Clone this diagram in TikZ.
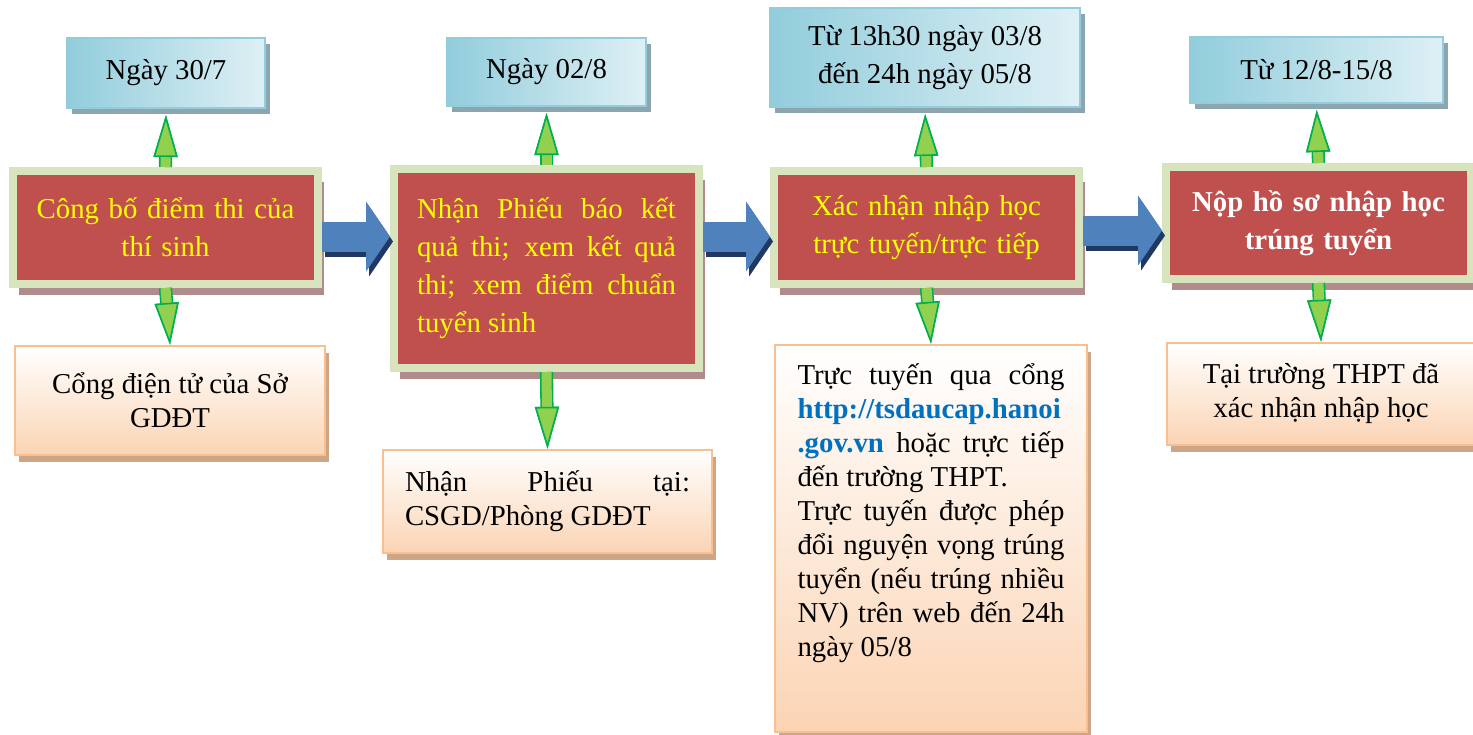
\documentclass[tikz,border=0pt]{standalone}
\usepackage{fontspec}
\setmainfont{Liberation Serif}
\usetikzlibrary{arrows.meta,shadows}

\begin{document}
\begin{tikzpicture}[x=0.5pt,y=-0.5pt,
  txt/.style={font=\fontsize{14.4}{19}\selectfont},
  tighttxt/.style={font=\fontsize{14.4}{17}\selectfont},
  datebox/.style={txt,shade,left color=topdark,right color=toplight,draw=topdark,line width=1pt,inner sep=0pt,
    drop shadow={shadow xshift=2.5pt,shadow yshift=-3pt,fill=topshadow,opacity=1}},
  stepbox/.style={txt,fill=redfill,draw=redrim,line width=4pt,text=stepyellow,inner sep=0pt,
    minimum width=152.5pt,
    drop shadow={shadow xshift=3pt,shadow yshift=-5.5pt,fill=redshadow,opacity=1}},
  placebox/.style={tighttxt,top color=white,bottom color=peach,draw=peachrim,line width=1.2pt,inner sep=0pt,
    drop shadow={shadow xshift=2pt,shadow yshift=-3.5pt,fill=peachshadow,opacity=1}},
  gconn/.style={draw=gfill,line width=5pt,
    -{Triangle[length=21pt,width=12pt,color=gline,fill=gfill,line width=0.8pt]},
    preaction={draw=gline,line width=6.6pt,-{Triangle[length=21pt,width=12pt,line width=0.8pt]}}},
  bconn/.style={draw=bfill,line width=15pt,
    -{Triangle[length=12pt,width=35pt,line width=0.5pt]},
    preaction={draw=bdark,line width=15pt,transform canvas={xshift=1.5pt,yshift=-2.5pt},
      -{Triangle[length=12pt,width=35pt,line width=0.5pt]}}}]

\definecolor{redfill}{RGB}{192,80,77}
\definecolor{redrim}{RGB}{215,228,189}
\definecolor{redshadow}{RGB}{176,140,140}
\definecolor{topdark}{RGB}{146,205,220}
\definecolor{toplight}{RGB}{222,240,245}
\definecolor{topshadow}{RGB}{140,165,175}
\definecolor{peach}{RGB}{251,212,180}
\definecolor{peachrim}{RGB}{250,191,143}
\definecolor{peachshadow}{RGB}{205,165,135}
\definecolor{gfill}{RGB}{146,208,80}
\definecolor{gline}{RGB}{0,176,80}
\definecolor{bfill}{RGB}{79,129,189}
\definecolor{bdark}{RGB}{31,56,100}
\definecolor{urlblue}{RGB}{0,112,192}
\definecolor{stepyellow}{RGB}{255,255,0}

\useasboundingbox (0,0) rectangle (1473,734);

% dates
\node[datebox,minimum width=99pt,minimum height=35pt]   (d1) at (166,73)    {Ngày 30/7};
\node[datebox,minimum width=99.5pt,minimum height=34pt] (d2) at (546.5,72)  {Ngày 02/8};
\node[datebox,minimum width=155pt,minimum height=49.5pt,align=center]
                                                         (d3) at (925,57.5)  {Từ 13h30 ngày 03/8\\đến 24h ngày 05/8};
\node[datebox,minimum width=126.5pt,minimum height=33pt] (d4) at (1316.5,70) {Từ 12/8-15/8};

% steps
\node[stepbox,minimum height=56.5pt,text width=130pt,align=center] (s1) at (165.5,227.5)
  {Công bố điểm thi của\\thí sinh};
\node[stepbox,minimum height=99.5pt,text width=129.5pt,align=justify] (s2) at (546.5,268.5)
  {Nhận Phiếu báo kết\linebreak quả thi; xem kết quả\linebreak thi; xem điểm chuẩn\linebreak tuyển sinh};
\node[stepbox,minimum height=56.5pt,text width=130pt,align=center] (s3) at (926.5,227.5)
  {Xác nhận nhập học\\trực tuyến/trực tiếp};
\node[stepbox,minimum height=56pt,text width=130pt,align=center,text=white,font=\fontsize{14.4}{19}\selectfont\bfseries]
  (s4) at (1318.5,223) {Nộp hồ sơ nhập học\\trúng tuyển};

% places
\node[placebox,minimum width=155pt,minimum height=54.5pt,align=center] (p1) at (170,400.5)
  {Cổng điện tử của Sở\\GDĐT};
\node[placebox,minimum width=164.5pt,minimum height=51.5pt,text width=142.5pt,align=justify] (p2) at (547.5,501.5)
  {Nhận Phiếu tại:\linebreak CSGD/Phòng GDĐT};
\node[placebox,minimum width=156pt,minimum height=193.5pt] (p3) at (931,538.5)
  {\parbox[c][175pt][t]{133.5pt}{Trực tuyến qua cổng\linebreak
   {\color{urlblue}\bfseries http://tsdaucap.hanoi}\linebreak
   {\color{urlblue}\bfseries .gov.vn} hoặc trực tiếp\linebreak
   đến trường THPT.\par
   Trực tuyến được phép\linebreak đổi nguyện vọng trúng\linebreak
   tuyển (nếu trúng nhiều\linebreak NV) trên web đến 24h\linebreak ngày 05/8}};
\node[placebox,minimum width=154pt,minimum height=51pt,align=center] (p4) at (1321,394)
  {Tại trường THPT đã\\xác nhận nhập học};

\foreach \i in {1,...,4}{
  \draw[gconn,shorten >=3pt] (s\i.north) -- (d\i.south);
  \draw[gconn] (s\i.south) -- (p\i.north);
}

\draw[bconn] ([yshift=-4.5pt]s1.east) -- ([yshift=-4.5pt]s1.east -| s2.west);
\draw[bconn] ([yshift=-4.5pt]s2.east |- s3.west) -- ([yshift=-4.5pt]s3.west);
\draw[bconn] ([yshift=-1.5pt]s3.east) -- ([yshift=-1.5pt]s3.east -| s4.west);

\end{tikzpicture}
\end{document}
